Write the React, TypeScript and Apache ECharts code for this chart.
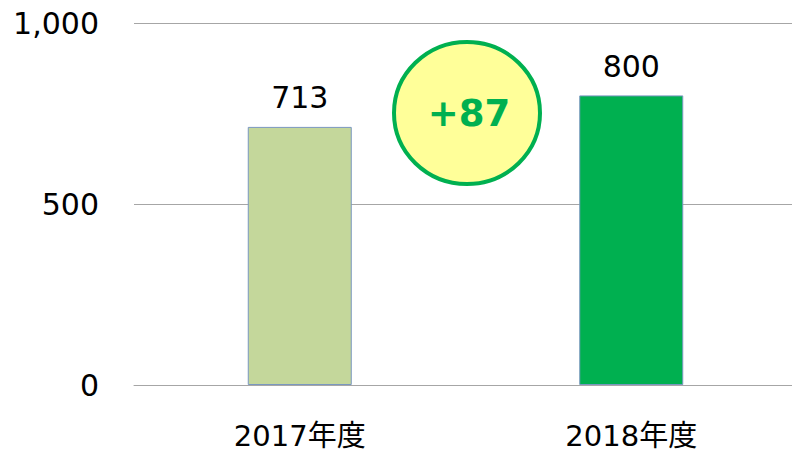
import React, { useEffect, useRef } from "react";
import * as echarts from "echarts";

const categories = ["2017年度", "2018年度"];
const values = [713, 800];
const barColors = ["#C4D79B", "#00B050"];
const yTicks = [0, 500, 1000];
const diffLabel = "+87";

export default function App() {
  const ref = useRef<HTMLDivElement>(null);
  useEffect(() => {
    if (!ref.current) return;
    const chart = echarts.init(ref.current, undefined, { renderer: "svg" });
    const font = "DejaVu Sans, Verdana, 'Noto Sans CJK JP', sans-serif";
    chart.setOption({
      animation: false,
      grid: { left: 134, width: 663, top: 23, height: 362, containLabel: false },
      xAxis: {
        type: "category",
        data: categories,
        axisLine: { show: true, lineStyle: { color: "#A6A6A6", width: 1 } },
        axisTick: { show: false },
        axisLabel: { color: "#000", fontSize: 29, lineHeight: 24, fontFamily: font, margin: 39 },
      },
      yAxis: {
        type: "value",
        min: yTicks[0],
        max: yTicks[yTicks.length - 1],
        interval: 500,
        axisLine: { show: false },
        axisTick: { show: false },
        splitLine: { lineStyle: { color: "#A6A6A6", width: 1 } },
        axisLabel: {
          color: "#000",
          fontSize: 30,
          fontFamily: font,
          margin: 35,
          formatter: (v: number) => v.toLocaleString("en-US"),
        },
      },
      series: [
        {
          type: "bar",
          barWidth: 104,
          data: values.map((v, i) => ({
            value: v,
            itemStyle: { color: barColors[i], borderColor: "#7A97C0", borderWidth: 1 },
          })),
          label: {
            show: true,
            position: "top",
            distance: 14,
            color: "#000",
            fontSize: 30,
            fontFamily: font,
          },
        },
      ],
      graphic: [
        {
          type: "ellipse",
          shape: { cx: 467, cy: 113, rx: 73, ry: 71 },
          style: { fill: "#FFFF99", stroke: "#00B050", lineWidth: 4 },
          z: 10,
        },
        {
          type: "text",
          x: 469,
          y: 113,
          style: {
            text: diffLabel,
            fill: "#00B050",
            font: "bold 37px DejaVu Sans, Verdana, sans-serif",
            align: "center",
            verticalAlign: "middle",
          },
          z: 11,
        },
      ],
    });
    return () => chart.dispose();
  }, []);
  return (
    <div
      style={{ position: "fixed", left: 0, top: 0, width: 792, height: 452, overflow: "hidden", background: "#fff" }}
    >
      <div ref={ref} style={{ width: 800, height: 452 }} />
    </div>
  );
}
